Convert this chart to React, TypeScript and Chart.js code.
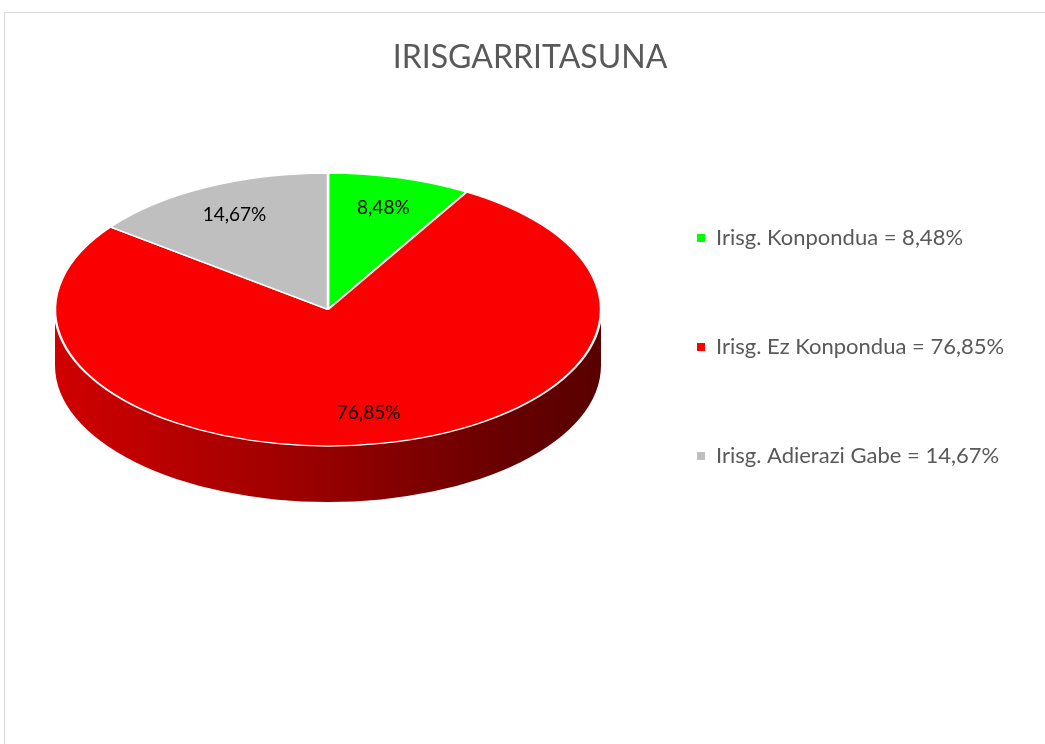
import React, { useEffect, useRef } from "react";
import { Chart, registerables } from "chart.js";

Chart.register(...registerables);

const TITLE = "IRISGARRITASUNA";
const CATEGORIES = ["Irisg. Konpondua", "Irisg. Ez Konpondua", "Irisg. Adierazi Gabe"];
const VALUES = [8.48, 76.85, 14.67];
const COLORS = ["#00ff00", "#fa0000", "#bfbfbf"];
const LEGEND_COLORS = ["#00ff00", "#ff0000", "#bfbfbf"];

const FONT = "Lato, 'Open Sans', sans-serif";
const TILT = 0.5;
const DEPTH = 56;
const LEGEND_FONT_SIZE = 22;
const LEGEND_PAD = 87;
const PIE_CX = 328;
const LEGEND_BOX_X = 697;

const fmt = (v: number) => v.toFixed(2).replace(".", ",") + "%";

function hexToRgb(h: string) {
  const n = parseInt(h.slice(1), 16);
  return [(n >> 16) & 255, (n >> 8) & 255, n & 255];
}
function shade(h: string, f: number) {
  const [r, g, b] = hexToRgb(h);
  return `rgb(${Math.round(r * f)},${Math.round(g * f)},${Math.round(b * f)})`;
}

const pie3d = {
  id: "pie3d",
  beforeDatasetsDraw(chart: any) {
    const ctx: CanvasRenderingContext2D = chart.ctx;
    const arcs = chart.getDatasetMeta(0).data;
    if (!arcs.length) return;
    const { x, y, outerRadius: R } = arcs[0];
    const bg = chart.data.datasets[0].backgroundColor as string[];
    ctx.save();
    arcs.forEach((arc: any, i: number) => {
      const s = arc.startAngle;
      const e = arc.endAngle;
      for (let k = -1; k <= 1; k++) {
        const a1 = Math.max(s + k * 2 * Math.PI, 0);
        const a2 = Math.min(e + k * 2 * Math.PI, Math.PI);
        if (a2 <= a1) continue;
        const g = ctx.createLinearGradient(x - R, 0, x + R, 0);
        g.addColorStop(0, shade(bg[i], 0.83));
        g.addColorStop(0.5, shade(bg[i], 0.6));
        g.addColorStop(0.85, shade(bg[i], 0.4));
        g.addColorStop(1, shade(bg[i], 0.36));
        ctx.beginPath();
        ctx.ellipse(x, y, R, R * TILT, 0, a1, a2);
        ctx.ellipse(x, y + DEPTH, R, R * TILT, 0, a2, a1, true);
        ctx.closePath();
        ctx.fillStyle = g;
        ctx.fill();
      }
    });
    ctx.restore();
    ctx.save();
    ctx.translate(0, y);
    ctx.scale(1, TILT);
    ctx.translate(0, -y);
  },
  afterDatasetsDraw(chart: any) {
    const ctx: CanvasRenderingContext2D = chart.ctx;
    ctx.restore();
    const arcs = chart.getDatasetMeta(0).data;
    const vals = chart.data.datasets[0].data as number[];
    ctx.save();
    ctx.font = `19px ${FONT}`;
    ctx.fillStyle = "#000000";
    ctx.textAlign = "center";
    ctx.textBaseline = "middle";
    arcs.forEach((arc: any, i: number) => {
      const m = (arc.startAngle + arc.endAngle) / 2;
      const r = arc.outerRadius * 0.77;
      const lx = arc.x + r * Math.cos(m);
      const ly = arc.y + TILT * r * Math.sin(m);
      ctx.fillText(fmt(vals[i]), lx, ly);
    });
    ctx.restore();
  },
};

export default function App() {
  const ref = useRef<HTMLCanvasElement | null>(null);
  useEffect(() => {
    document.body.style.overflow = "hidden";
    const canvas = ref.current!;
    const legendTexts = CATEGORIES.map((c, i) => `${c} = ${fmt(VALUES[i])}`);
    const legendLeft = LEGEND_BOX_X - LEGEND_PAD;
    const padLeft = 2 * PIE_CX - legendLeft;

    const chart = new Chart(canvas, {
      type: "pie",
      data: {
        labels: CATEGORIES,
        datasets: [
          {
            data: VALUES,
            backgroundColor: COLORS,
            borderColor: "#ffffff",
            borderWidth: 2.5,
            clip: false as any,
          } as any,
        ],
      },
      plugins: [pie3d],
      options: {
        responsive: false,
        animation: false,
        events: [],
        radius: 273,
        layout: { padding: { left: padLeft, right: 40, top: 0, bottom: 190 } },
        plugins: {
          tooltip: { enabled: false },
          title: {
            display: true,
            text: TITLE,
            color: "#595959",
            font: { family: FONT, size: 32, weight: "normal", lineHeight: "14px" as any },
            padding: { top: 51, bottom: 0 },
          },
          legend: {
            display: true,
            position: "right",
            align: "end",
            labels: {
              boxWidth: 8,
              boxHeight: 8,
              padding: LEGEND_PAD,
              color: "#595959",
              font: { family: FONT, size: LEGEND_FONT_SIZE },
              generateLabels: () =>
                legendTexts.map((t, i) => ({
                  text: t,
                  fillStyle: LEGEND_COLORS[i],
                  strokeStyle: LEGEND_COLORS[i],
                  lineWidth: 0,
                  hidden: false,
                  index: i,
                  fontColor: "#595959",
                })),
            },
          },
        },
      } as any,
    });
    // align legend box so the pie centre and legend markers sit where intended
    for (let iter = 0; iter < 3; iter++) {
      const err = (chart as any).legend.left - legendLeft;
      if (Math.abs(err) < 0.5) break;
      (chart.options as any).layout.padding.right += err;
      chart.update();
    }
    return () => chart.destroy();
  }, []);

  return (
    <div style={{ position: "absolute", left: 0, top: 0, width: 1045, height: 744, background: "#fff" }}>
      <div
        style={{
          position: "absolute",
          left: 4,
          top: 12,
          width: 1041,
          height: 732,
          boxSizing: "border-box",
          borderTop: "1px solid #d9d9d9",
          borderLeft: "1px solid #d9d9d9",
        }}
      />
      <canvas ref={ref} width={1045} height={744} style={{ position: "absolute", left: 0, top: 0, display: "block" }} />
    </div>
  );
}
